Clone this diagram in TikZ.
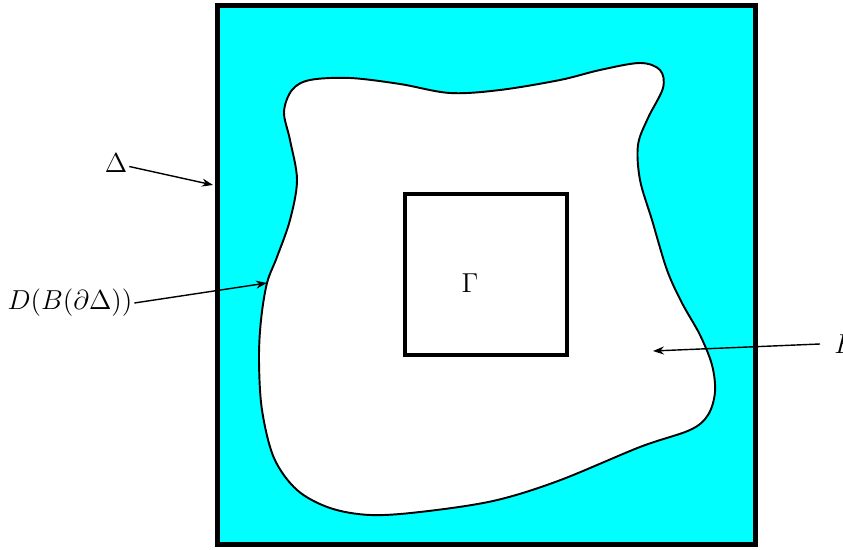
\RequirePackage{fix-cm}
\documentclass[tikz,border=0pt]{standalone}
\usepackage{amsmath,amssymb}
\usetikzlibrary{arrows.meta, positioning}
\definecolor{mcyan}{HTML}{00FFFF}
\tikzset{
  lbl/.style={font=\fontsize{15.6}{18}\selectfont, inner sep=1pt},
  arr/.style={-{Stealth[length=2.2mm, width=1.6mm]}, line width=0.8pt},
  thickbox/.style={draw, line width=2.8pt},
}
\begin{document}
\begin{tikzpicture}[x=0.02cm, y=-0.02cm]
  \useasboundingbox (0,0) rectangle (843,550);
  % outer square
  \node[thickbox, fill=mcyan, minimum width=10.78cm, minimum height=10.8cm] (outer) at (486.5,275) {};
  % deformed region
  \draw[line width=1.1pt, fill=white] plot[smooth cycle, tension=0.55] coordinates {
    (310,80) (350,78) (400,84) (450,93) (500,90) (560,80) (600,70) (640,63)
    (660,70) (663,88) (648,118) (638,145) (640,180) (652,220) (667,270)
    (682,303) (700,335) (712,365) (715,392) (708,415) (690,430) (640,447)
    (558,481) (493,501) (420,512) (370,515) (330,508) (297,490) (274,458)
    (262,410) (259,360) (261,320) (267,283) (277,257) (290,220) (297,180)
    (290,140) (284,112) (292,90)};
  % inner square
  \node[thickbox, minimum width=3.24cm, minimum height=3.22cm] (inner) at (486,274.5) {};
  \node[lbl] (gamma) at (470,283) {$\Gamma$};
  % labels
  \node[lbl] (delta) at (116,163) {$\Delta$};
  \node[lbl] (dbd) at (70,303) {$D(B(\partial\Delta))$};
  \node[lbl, anchor=west, inner xsep=8pt] (elbl) at (820,344) {$E$};
  \coordinate (dTip) at (213,185);
  \coordinate (bTip) at (267,283);
  \coordinate (eTip) at (653,351);
  \draw[arr] ([yshift=-2pt]delta.east) -- (dTip);
  \draw[arr] (dbd.east) -- (bTip);
  \draw[arr] (elbl.west) -- (eTip);
\end{tikzpicture}
\end{document}
